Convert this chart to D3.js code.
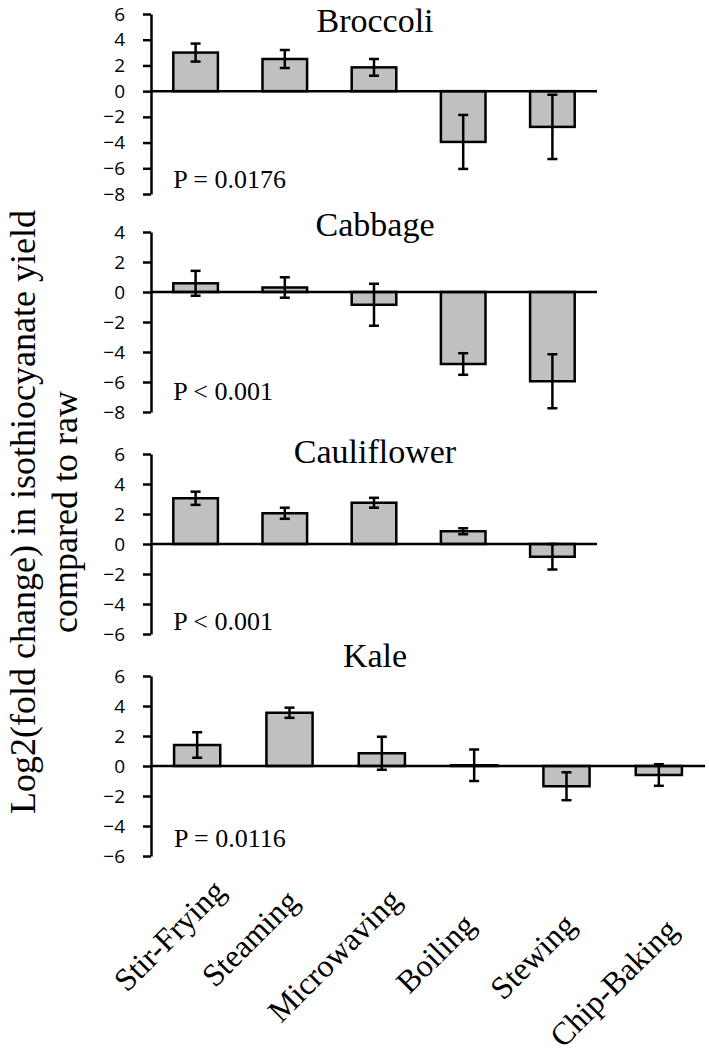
<!DOCTYPE html>
<html>
<head>
<meta charset="utf-8">
<script src="https://cdn.jsdelivr.net/npm/d3@7"></script>
<style>
  html, body { margin: 0; padding: 0; background: #fff; }
  svg { display: block; }
  .tick text { font-family: 'Open Sans', 'DejaVu Sans', sans-serif; font-size: 19px; fill: #000; }
</style>
</head>
<body>
<svg id="chart" width="709" height="1059"></svg>
<script>
// ---------------- DATA ----------------
const categories = ["Stir-Frying", "Steaming", "Microwaving", "Boiling", "Stewing", "Chip-Baking"];
const panelNames = ["Broccoli", "Cabbage", "Cauliflower", "Kale"];
const pValueLabels = ["P = 0.0176", "P < 0.001", "P < 0.001", "P = 0.0116"];

const broccoliMeans = [3.0, 2.5, 1.85, -3.95, -2.78];
const broccoliErrors = [0.7, 0.7, 0.65, 2.1, 2.5];
const cabbageMeans = [0.58, 0.3, -0.85, -4.8, -5.95];
const cabbageErrors = [0.83, 0.68, 1.4, 0.72, 1.8];
const cauliflowerMeans = [3.05, 2.05, 2.75, 0.85, -0.85];
const cauliflowerErrors = [0.44, 0.37, 0.33, 0.2, 0.85];
const kaleMeans = [1.4, 3.55, 0.85, 0.05, -1.35, -0.6];
const kaleErrors = [0.85, 0.34, 1.1, 1.05, 0.93, 0.72];

const yDomains = [[-8, 6], [-8, 4], [-6, 6], [-6, 6]];
const tickStep = 2;
const yAxisTitle = ["Log2(fold change) in isothiocyanate yield", "compared to raw"];

// ---------------- LAYOUT ----------------
const axisX = 151;
const panelTops = [14, 232, 454, 676];
const panelHeight = 180;
const panelRights = [597, 597, 597, 705];
const titleBaselines = [32, 236, 463, 667];
const titleCenterX = 375;
const pBaselines = [188, 400, 630, 847];
const labelDx = [30, 11, 21, 3, 11, 21];
const labelY = [893, 903, 902, 927, 927, 932];

const serif = "'Liberation Serif', 'Times New Roman', serif";

const panels = [
  { means: broccoliMeans, errors: broccoliErrors },
  { means: cabbageMeans, errors: cabbageErrors },
  { means: cauliflowerMeans, errors: cauliflowerErrors },
  { means: kaleMeans, errors: kaleErrors }
];

const svg = d3.select("#chart");

let lastX = null;
panels.forEach((p, i) => {
  const cats = categories.slice(0, p.means.length);
  const data = cats.map((c, j) => ({ cat: c, v: p.means[j], e: p.errors[j] }));
  const x = d3.scaleBand().domain(cats).range([axisX, panelRights[i]])
    .paddingInner(0.5).paddingOuter(0.25);
  const y = d3.scaleLinear().domain(yDomains[i]).range([panelTops[i] + panelHeight, panelTops[i]]);
  lastX = x;

  const g = svg.append("g");

  // title
  g.append("text")
    .attr("x", titleCenterX).attr("y", titleBaselines[i])
    .attr("text-anchor", "middle")
    .style("font-family", serif).style("font-size", "34px")
    .text(panelNames[i]);

  // y axis
  const ticks = d3.range(yDomains[i][0], yDomains[i][1] + 0.001, tickStep);
  const axis = d3.axisLeft(y).tickValues(ticks).tickSizeInner(8).tickSizeOuter(0).tickPadding(18)
    .tickFormat(d3.format("d"));
  const ag = g.append("g").attr("transform", `translate(${axisX},0)`).call(axis)
    .attr("font-size", null).attr("font-family", null);
  ag.select(".domain").attr("stroke", "#000").attr("stroke-width", 2.5);
  ag.selectAll(".tick line").attr("stroke", "#000").attr("stroke-width", 2.5);

  // bars
  g.selectAll("rect.bar").data(data).enter().append("rect")
    .attr("class", "bar")
    .attr("x", d => x(d.cat))
    .attr("width", x.bandwidth())
    .attr("y", d => Math.min(y(d.v), y(0)))
    .attr("height", d => Math.abs(y(d.v) - y(0)))
    .attr("fill", "#c0c0c0")
    .attr("stroke", "#000")
    .attr("stroke-width", 2.5);

  // zero line
  g.append("line")
    .attr("x1", axisX).attr("x2", panelRights[i])
    .attr("y1", y(0)).attr("y2", y(0))
    .attr("stroke", "#000").attr("stroke-width", 2.5);

  // error bars
  const eg = g.selectAll("g.err").data(data).enter().append("g").attr("class", "err")
    .attr("stroke", "#000").attr("stroke-width", 2.5);
  const cx = d => x(d.cat) + x.bandwidth() / 2;
  eg.append("line").attr("x1", cx).attr("x2", cx)
    .attr("y1", d => y(d.v + d.e)).attr("y2", d => y(d.v - d.e));
  eg.append("line").attr("x1", d => cx(d) - 5).attr("x2", d => cx(d) + 5)
    .attr("y1", d => y(d.v + d.e)).attr("y2", d => y(d.v + d.e));
  eg.append("line").attr("x1", d => cx(d) - 5).attr("x2", d => cx(d) + 5)
    .attr("y1", d => y(d.v - d.e)).attr("y2", d => y(d.v - d.e));

  // p value
  g.append("text")
    .attr("x", x(cats[0])).attr("y", pBaselines[i])
    .style("font-family", serif).style("font-size", "26px")
    .text(pValueLabels[i]);
});

// category labels (from the bottom panel's band scale)
svg.append("g").selectAll("text").data(categories).enter().append("text")
  .attr("transform", (d, j) => `translate(${lastX(d) + lastX.bandwidth() / 2 + labelDx[j]},${labelY[j]}) rotate(-45)`)
  .attr("text-anchor", "end")
  .style("font-family", serif).style("font-size", "32px")
  .text(d => d);

// y axis title
const yt = svg.append("text")
  .attr("transform", "translate(0,512) rotate(-90)")
  .attr("text-anchor", "middle")
  .style("font-family", serif).style("font-size", "36px");
yt.append("tspan").attr("x", 0).attr("y", 35).text(yAxisTitle[0]);
yt.append("tspan").attr("x", 0).attr("y", 77).text(yAxisTitle[1]);
</script>
</body>
</html>
